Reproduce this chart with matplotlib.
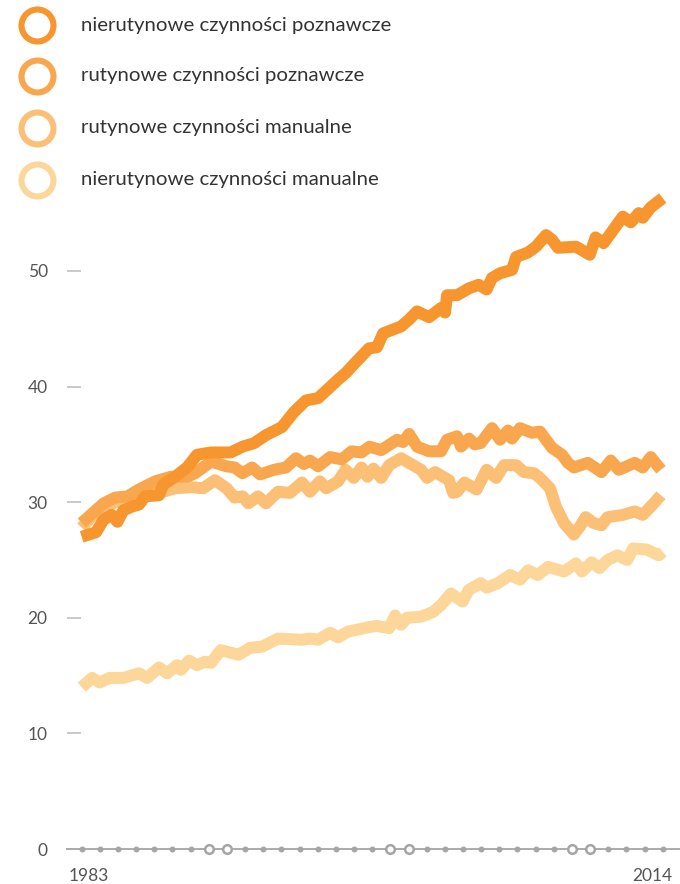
import matplotlib
matplotlib.use("Agg")
import matplotlib.pyplot as plt

plt.rcParams['font.family'] = ['Lato', 'DejaVu Sans']

# legend labels and colours (darkest first)
labels = [
    "nierutynowe czynności poznawcze",
    "rutynowe czynności poznawcze",
    "rutynowe czynności manualne",
    "nierutynowe czynności manualne",
]
colors = ["#F7962F", "#F9A74F", "#FBBF76", "#FDD699"]

# series: (year, value)
s1_years = [1983.0, 1983.79, 1984.21, 1984.65, 1984.97, 1985.3, 1985.74, 1986.16, 1986.49, 1987.26,
            1987.48, 1988.14, 1988.8, 1989.35, 1990.12, 1991.2, 1991.86, 1992.49, 1993.15, 1994.03,
            1994.69, 1995.35, 1996.02, 1997.12, 1997.56, 1997.97, 1998.82, 1999.26, 1999.6, 2000.59,
            2001.03, 2001.47, 2002.13, 2002.79, 2003.01, 2003.12, 2003.67, 2004.33, 2004.86, 2005.3,
            2005.6, 2006.04, 2006.7, 2006.92, 2007.58, 2008.02, 2008.57, 2008.9, 2009.23, 2010.22,
            2010.98, 2011.3, 2011.74, 2012.25, 2012.8, 2013.24, 2013.68, 2013.9, 2014.34, 2015.0]
s1_vals = [27.0, 27.4, 28.5, 28.9, 28.3, 29.3, 29.6, 29.8, 30.5, 30.6,
           31.5, 32.2, 33.0, 34.1, 34.3, 34.3, 34.8, 35.1, 35.8, 36.5,
           37.8, 38.8, 39.0, 40.6, 41.2, 41.9, 43.3, 43.4, 44.6, 45.2,
           45.8, 46.5, 46.0, 46.8, 46.4, 47.9, 47.9, 48.5, 48.8, 48.4,
           49.4, 49.8, 50.1, 51.2, 51.6, 52.1, 53.1, 52.7, 52.0, 52.1,
           51.4, 52.9, 52.4, 53.5, 54.7, 54.2, 55.0, 54.6, 55.5, 56.3]

s2_years = [1983.0, 1983.57, 1984.21, 1984.86, 1985.52, 1986.16, 1987.04, 1987.92, 1988.8, 1989.24,
            1990.12, 1990.98, 1991.42, 1991.86, 1992.38, 1992.82, 1993.59, 1994.25, 1994.8, 1995.24,
            1995.57, 1996.02, 1996.68, 1997.32, 1997.87, 1998.41, 1998.85, 1999.49, 2000.37, 2000.7,
            2001.03, 2001.47, 2002.13, 2002.79, 2003.12, 2003.67, 2003.89, 2004.33, 2004.64, 2004.97,
            2005.6, 2006.04, 2006.48, 2006.7, 2007.14, 2007.8, 2008.24, 2008.57, 2008.9, 2009.45,
            2009.78, 2010.11, 2010.87, 2011.63, 2012.14, 2012.58, 2013.46, 2013.9, 2014.34, 2014.9]
s2_vals = [28.2, 29.0, 29.9, 30.4, 30.5, 31.1, 31.8, 32.2, 32.2, 32.5,
           33.5, 33.1, 33.0, 32.5, 33.0, 32.4, 32.8, 33.0, 33.8, 33.3,
           33.6, 33.1, 33.9, 33.7, 34.4, 34.3, 34.8, 34.5, 35.4, 35.2,
           35.9, 34.8, 34.4, 34.4, 35.4, 35.7, 34.8, 35.5, 35.0, 35.1,
           36.4, 35.4, 36.2, 35.5, 36.4, 36.0, 36.1, 35.4, 34.7, 34.1,
           33.4, 33.0, 33.4, 32.6, 33.6, 32.8, 33.4, 33.0, 33.9, 32.8]

s3_years = [1983.0, 1983.57, 1984.21, 1984.86, 1985.52, 1986.16, 1987.26, 1988.14, 1989.02, 1989.68,
            1990.34, 1990.98, 1991.42, 1991.86, 1992.18, 1992.71, 1993.15, 1993.81, 1994.47, 1995.13,
            1995.57, 1996.12, 1996.46, 1997.12, 1997.53, 1997.98, 1998.41, 1998.74, 1999.07, 1999.49,
            1999.93, 2000.59, 2001.25, 2001.69, 2002.02, 2002.46, 2003.23, 2003.45, 2003.67, 2004.08,
            2004.75, 2005.3, 2005.82, 2006.26, 2006.92, 2007.36, 2007.91, 2008.24, 2008.79, 2009.12,
            2009.56, 2010.1, 2010.44, 2010.75, 2011.19, 2011.63, 2011.96, 2012.8, 2013.46, 2013.9,
            2014.45, 2014.9]
s3_vals = [27.8, 28.8, 29.6, 30.0, 30.2, 30.5, 30.8, 31.2, 31.3, 31.2,
           31.9, 31.2, 30.4, 30.5, 29.9, 30.5, 29.9, 30.9, 30.8, 31.7,
           30.9, 31.8, 31.2, 31.8, 32.8, 32.1, 33.0, 32.2, 32.9, 32.1,
           33.2, 33.8, 33.2, 32.8, 32.1, 32.6, 31.9, 30.8, 30.9, 31.7,
           31.1, 32.8, 32.1, 33.2, 33.2, 32.6, 32.5, 32.1, 31.2, 29.6,
           28.2, 27.2, 27.9, 28.7, 28.2, 28.0, 28.7, 28.9, 29.2, 28.9,
           29.8, 30.6]

s4_years = [1983.0, 1983.57, 1983.99, 1984.54, 1985.3, 1986.16, 1986.6, 1987.26, 1987.7, 1988.25,
            1988.47, 1988.91, 1989.35, 1989.79, 1990.12, 1990.66, 1991.64, 1992.27, 1992.93, 1993.81,
            1995.13, 1995.57, 1996.02, 1996.68, 1997.12, 1997.65, 1998.85, 1999.26, 1999.93, 2000.26,
            2000.59, 2000.92, 2001.69, 2002.35, 2002.79, 2003.34, 2003.98, 2004.31, 2004.97, 2005.3,
            2005.93, 2006.59, 2007.14, 2007.58, 2008.13, 2008.68, 2009.56, 2010.22, 2010.55, 2011.08,
            2011.52, 2011.96, 2012.51, 2013.04, 2013.37, 2014.12, 2014.78, 2015.0]
s4_vals = [14.0, 14.8, 14.4, 14.8, 14.8, 15.2, 14.8, 15.7, 15.2, 15.9,
           15.5, 16.3, 15.9, 16.2, 16.1, 17.2, 16.8, 17.4, 17.5, 18.2,
           18.1, 18.2, 18.1, 18.7, 18.3, 18.8, 19.2, 19.3, 19.1, 20.2,
           19.4, 20.0, 20.1, 20.5, 21.1, 22.1, 21.4, 22.4, 23.0, 22.6,
           23.0, 23.7, 23.3, 24.1, 23.7, 24.4, 24.0, 24.7, 24.0, 24.8,
           24.3, 25.0, 25.4, 25.0, 26.0, 25.9, 25.4, 25.7]

yticks = [0, 10, 20, 30, 40, 50]
axis_years = list(range(1983, 2016))
hollow_idx = [7, 8, 17, 18, 27, 28]
first_year, last_year = "1983", "2014"

fig = plt.figure(figsize=(6.8, 8.84), dpi=100)
ax = fig.add_axes([67/680, 35/884, 613/680, 659/884])
ax.set_xlim(1982.19, 2015.95)
ax.set_ylim(0, 57)

series = [(s4_years, s4_vals, colors[3]), (s3_years, s3_vals, colors[2]),
          (s2_years, s2_vals, colors[1]), (s1_years, s1_vals, colors[0])]
for xs, ys, c in series:
    ax.plot(xs, ys, color=c, lw=8.6, solid_joinstyle='round', solid_capstyle='butt',
            clip_on=False, zorder=3)

for s in ax.spines.values():
    s.set_visible(False)
ax.axhline(0, color="#ababab", lw=1.4, zorder=2, clip_on=False)

for i, yr in enumerate(axis_years):
    if i in hollow_idx:
        ax.plot(yr, 0, 'o', ms=6.2, mfc='white', mec='#a5a5a5', mew=1.8, clip_on=False, zorder=4)
    else:
        ax.plot(yr, 0, 'o', ms=4.3, mfc='#a5a5a5', mec='none', clip_on=False, zorder=4)

tick_col = '#555555'
ax.set_xticks([])
ax.set_yticks(yticks)
ax.set_yticklabels([str(v) for v in yticks])
ax.tick_params(axis='y', direction='in', length=10, width=1.1, color='#bbbbbb',
               pad=13.9, labelsize=12.5, labelcolor=tick_col)

ax.text(1983.4, -2.3, first_year, ha='center', va='center', fontsize=12.5, color=tick_col)
ax.text(2014.4, -2.3, last_year, ha='center', va='center', fontsize=12.5, color=tick_col)

# legend with ring markers
lax = fig.add_axes([0, 0, 1, 1])
lax.set_xlim(0, 680)
lax.set_ylim(884, 0)
lax.axis('off')
leg_y = [25, 76, 128, 180]
for lbl, c, y in zip(labels, colors, leg_y):
    lax.plot(37, y, 'o', ms=23, mfc='white', mec=c, mew=4.4)
    lax.text(81, y, lbl, ha='left', va='center', fontsize=14.7, color='#333333')

fig.savefig("out.png", dpi=100)
